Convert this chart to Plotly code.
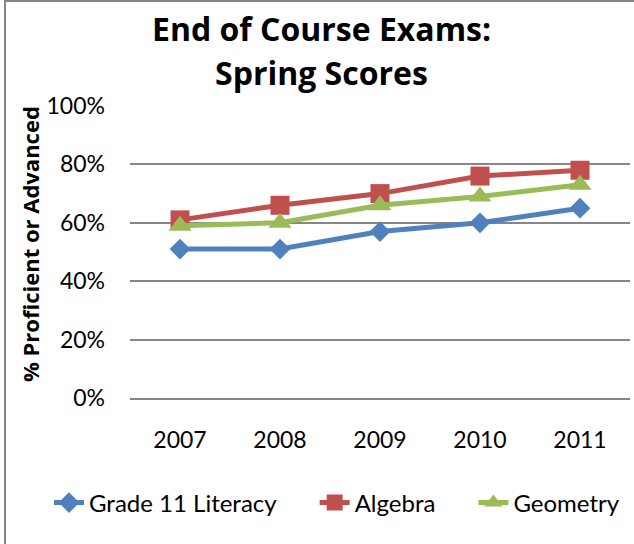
import plotly.graph_objects as go

years = ["2007", "2008", "2009", "2010", "2011"]
literacy = [0.51, 0.51, 0.57, 0.60, 0.65]
algebra = [0.61, 0.66, 0.70, 0.76, 0.78]
geometry = [0.59, 0.60, 0.66, 0.69, 0.73]

FONT = "Lato"
BFONT = "Open Sans"

fig = go.Figure()
fig.add_trace(go.Scatter(x=years, y=literacy, name="Grade 11 Literacy\u2003\u2002\u2009", mode="lines+markers",
                         line=dict(color="#4F81BD", width=5),
                         marker=dict(symbol="diamond", size=16, color="#4F81BD")))
fig.add_trace(go.Scatter(x=years, y=algebra, name="Algebra\u2003\u2002\u2009", mode="lines+markers",
                         line=dict(color="#C0504D", width=5),
                         marker=dict(symbol="square", size=19, color="#C0504D")))
fig.add_trace(go.Scatter(x=years, y=geometry, name="Geometry", mode="lines+markers",
                         line=dict(color="#9BBB59", width=5),
                         marker=dict(symbol="triangle-up", size=20, color="#9BBB59")))

fig.update_layout(
    width=634, height=544,
    margin=dict(l=130, r=4, t=106, b=146),
    paper_bgcolor="white", plot_bgcolor="white",
    font=dict(family=FONT, color="black", size=20),
    showlegend=True,
    legend=dict(orientation="h", x=(49 - 130) / 500, xanchor="left",
                y=(398 - 503) / 292, yanchor="middle",
                font=dict(size=24, family=FONT), tracegroupgap=0,
                bgcolor="rgba(0,0,0,0)"),
    xaxis=dict(type="category", range=[-0.5, 4.5], showgrid=False,
               showline=True, linecolor="#868686", linewidth=2, ticks="",
               ticklabelstandoff=20, tickfont=dict(size=23, family=FONT)),
    yaxis=dict(range=[0, 1], dtick=0.2, tickformat=".0%", showgrid=True,
               gridcolor="#868686", gridwidth=1.5, zeroline=False, showline=False,
               ticks="", ticklabelstandoff=24, tickfont=dict(size=23, family=FONT)),
    annotations=[
        dict(text="<b>End of Course Exams:</b>", xref="paper", yref="paper",
             x=(321 - 130) / 500, y=(398 - 29) / 292, xanchor="center", yanchor="middle",
             showarrow=False, font=dict(size=32, family=BFONT)),
        dict(text="<b>Spring Scores</b>", xref="paper", yref="paper",
             x=(321 - 130) / 500, y=(398 - 72) / 292, xanchor="center", yanchor="middle",
             showarrow=False, font=dict(size=32, family=BFONT)),
        dict(text="<b>% Proficient or Advanced</b>", xref="paper", yref="paper",
             x=(30 - 130) / 500, y=(398 - 244) / 292, xanchor="center", yanchor="middle",
             textangle=-90, showarrow=False, font=dict(size=22, family=BFONT)),
    ],
    shapes=[
        dict(type="rect", xref="paper", yref="paper",
             x0=(5 - 130) / 500, x1=(660 - 130) / 500,
             y0=(398 - 560) / 292, y1=(398 - 1) / 292,
             line=dict(color="#868686", width=2), fillcolor="rgba(0,0,0,0)", layer="below"),
    ],
)

fig.write_html("out.html", config={"displayModeBar": False},
               post_script="document.body.style.margin='0';document.body.style.overflow='hidden';")
